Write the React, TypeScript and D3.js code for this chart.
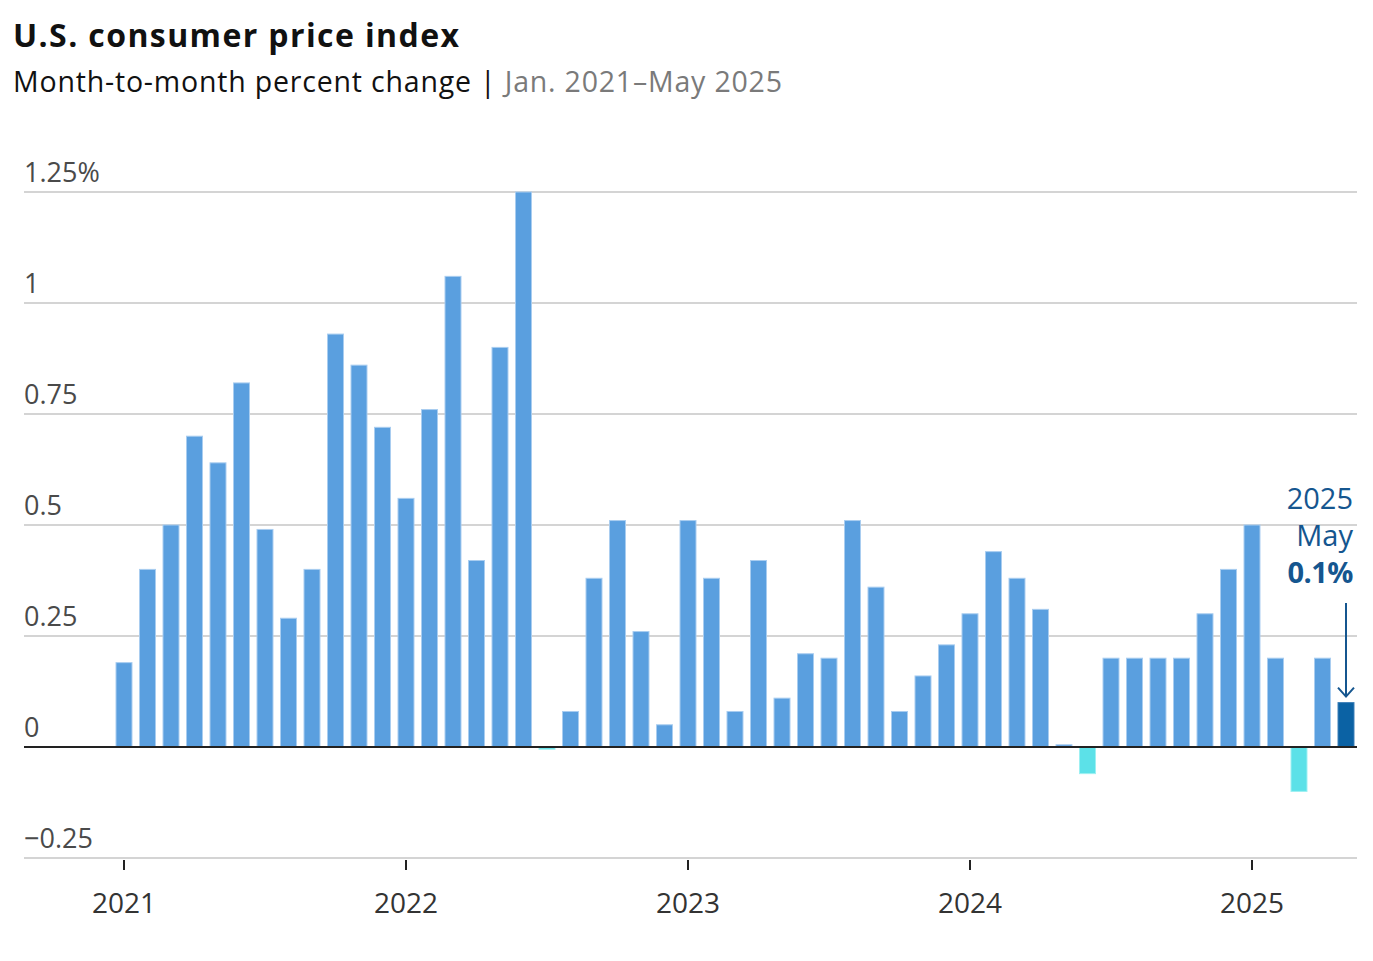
import * as d3 from "d3";
import { useEffect, useRef } from "react";

const years = [2021, 2022, 2023, 2024, 2025];
const monthNames = ["Jan", "Feb", "Mar", "Apr", "May", "Jun", "Jul", "Aug", "Sep", "Oct", "Nov", "Dec"];

// month-over-month % change, Jan 2021 – May 2025
const values2021 = [0.19, 0.4, 0.5, 0.7, 0.64, 0.82, 0.49, 0.29, 0.4, 0.93, 0.86, 0.72];
const values2022 = [0.56, 0.76, 1.06, 0.42, 0.9, 1.25, -0.005, 0.08, 0.38, 0.51, 0.26, 0.05];
const values2023 = [0.51, 0.38, 0.08, 0.42, 0.11, 0.21, 0.2, 0.51, 0.36, 0.08, 0.16, 0.23];
const values2024 = [0.3, 0.44, 0.38, 0.31, 0.005, -0.06, 0.2, 0.2, 0.2, 0.2, 0.3, 0.4];
const values2025 = [0.5, 0.2, -0.1, 0.2, 0.1];

const yTicks = [-0.25, 0, 0.25, 0.5, 0.75, 1, 1.25];
const yTickLabels = ["\u22120.25", "0", "0.25", "0.5", "0.75", "1", "1.25%"];

const series = [values2021, values2022, values2023, values2024, values2025];
const data = series.flatMap((vals, yi) =>
  vals.map((v, mi) => ({ key: `${years[yi]}-${mi + 1}`, year: years[yi], month: monthNames[mi], value: v }))
);

const FONT = "'Open Sans', Lato, sans-serif";

export default function App() {
  const ref = useRef<SVGSVGElement>(null);

  useEffect(() => {
    if (!ref.current) return;
    const el = ref.current;
    d3.select(el).selectAll("*").remove();

    const W = 1373;
    const H = 961;
    const svg = d3.select(el).attr("width", W).attr("height", H);

    const left = 24;
    const right = 1357;

    const x = d3
      .scaleBand<string>()
      .domain(data.map(d => d.key))
      .range([112.25, 1357.75])
      .paddingInner(0.32)
      .paddingOuter(0.16);

    const y = d3.scaleLinear().domain([-0.25, 1.25]).range([858, 192]);

    // title
    svg.append("text")
      .attr("x", 13).attr("y", 47)
      .attr("font-family", FONT).attr("font-weight", 700).attr("font-size", 32)
      .attr("textLength", 446).attr("lengthAdjust", "spacing")
      .attr("fill", "#111")
      .text("U.S. consumer price index");

    const sub = svg.append("text")
      .attr("x", 13).attr("y", 92)
      .attr("font-family", FONT).attr("font-size", 28.5)
      .attr("textLength", 769).attr("lengthAdjust", "spacing")
      .attr("fill", "#111");
    sub.append("tspan").text("Month-to-month percent change | ");
    sub.append("tspan").attr("fill", "#7a7a7a").text("Jan. 2021\u2013May 2025");

    // gridlines
    svg.append("g")
      .selectAll("line")
      .data(yTicks.filter(t => t !== 0))
      .join("line")
      .attr("x1", left).attr("x2", right)
      .attr("y1", d => y(d)).attr("y2", d => y(d))
      .attr("stroke", "#d4d4d4").attr("stroke-width", 2);

    // y labels
    svg.append("g")
      .selectAll("text")
      .data(yTicks)
      .join("text")
      .attr("x", left)
      .attr("y", d => y(d) - 10)
      .attr("font-family", FONT).attr("font-size", 27)
      .attr("fill", "#4a4a4a")
      .text((_, i) => yTickLabels[i]);

    // bars
    const last = data[data.length - 1].key;
    svg.append("g")
      .selectAll("rect")
      .data(data)
      .join("rect")
      .attr("x", d => x(d.key)!)
      .attr("width", x.bandwidth())
      .attr("y", d => Math.min(y(d.value), y(0)))
      .attr("height", d => Math.max(Math.abs(y(d.value) - y(0)), 1.5))
      .attr("fill", d => (d.key === last ? "#0b62a4" : d.value < 0 ? "#5ce1e8" : "#5a9fdf"))
      .attr("stroke", d => (d.key === last ? "#3c7fb8" : d.value < 0 ? "#9df0f2" : "#a9cdf0"))
      .attr("stroke-width", 1);

    // zero line
    svg.append("line")
      .attr("x1", left).attr("x2", right)
      .attr("y1", y(0)).attr("y2", y(0))
      .attr("stroke", "#222").attr("stroke-width", 2);

    // x ticks
    const yearKeys = years.map(yr => `${yr}-1`);
    const xc = (k: string) => x(k)! + x.bandwidth() / 2;
    const xt = svg.append("g");
    xt.selectAll("line")
      .data(yearKeys)
      .join("line")
      .attr("x1", d => xc(d)).attr("x2", d => xc(d))
      .attr("y1", 860).attr("y2", 870)
      .attr("stroke", "#222").attr("stroke-width", 2);
    xt.selectAll("text")
      .data(years)
      .join("text")
      .attr("x", (_, i) => xc(yearKeys[i]))
      .attr("y", 913)
      .attr("text-anchor", "middle")
      .attr("font-family", FONT).attr("font-size", 28)
      .attr("fill", "#333")
      .text(d => String(d));

    // annotation for latest month
    const lastD = data[data.length - 1];
    const ax = xc(last);
    const ann = svg.append("g")
      .attr("font-family", FONT).attr("font-size", 29)
      .attr("fill", "#15568f").attr("text-anchor", "end");
    ann.append("text").attr("x", 1353).attr("y", 509).text(String(lastD.year));
    ann.append("text").attr("x", 1353).attr("y", 546).text(lastD.month);
    ann.append("text").attr("x", 1353).attr("y", 583).attr("font-weight", 700)
      .attr("letter-spacing", -0.5).text(`${lastD.value}%`);

    const tipY = y(lastD.value) - 6;
    ann.append("line")
      .attr("x1", ax).attr("x2", ax)
      .attr("y1", 603).attr("y2", tipY)
      .attr("stroke", "#15568f").attr("stroke-width", 2);
    ann.append("path")
      .attr("d", `M${ax - 8},${tipY - 9}L${ax},${tipY}L${ax + 8},${tipY - 9}`)
      .attr("fill", "none")
      .attr("stroke", "#15568f").attr("stroke-width", 2);
  }, []);

  return (
    <svg
      ref={ref}
      style={{ position: "absolute", left: 0, top: 0, display: "block", background: "#fff" }}
    />
  );
}
